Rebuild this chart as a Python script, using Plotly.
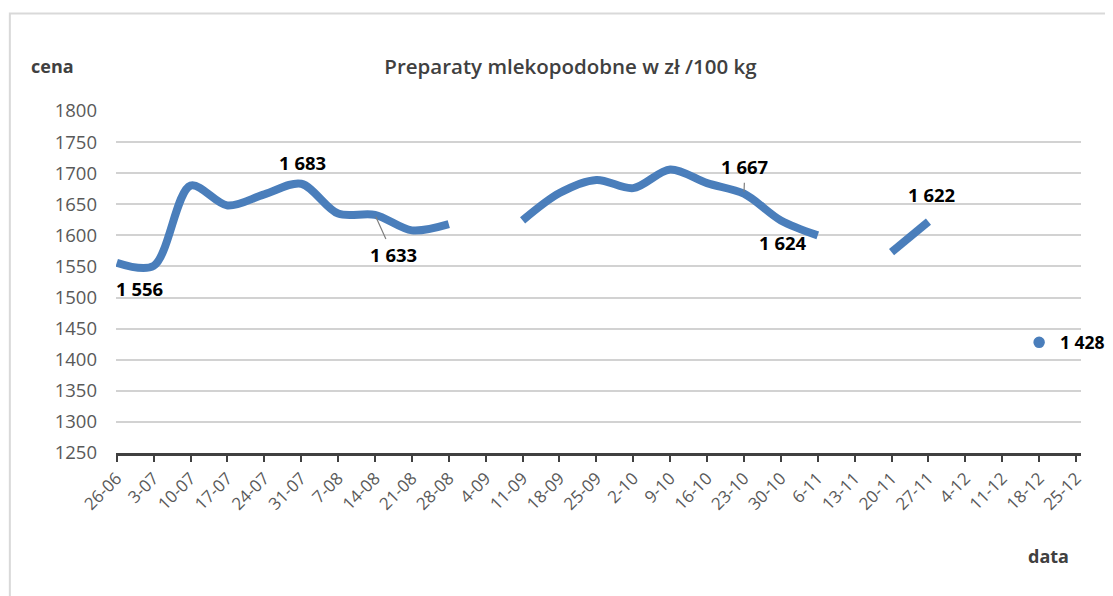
import plotly.graph_objects as go

categories = ["26-06", "3-07", "10-07", "17-07", "24-07", "31-07", "7-08", "14-08", "21-08",
              "28-08", "4-09", "11-09", "18-09", "25-09", "2-10", "9-10", "16-10", "23-10",
              "30-10", "6-11", "13-11", "20-11", "27-11", "4-12", "11-12", "18-12", "25-12"]
prices = [1556, 1551, 1680, 1648, 1666, 1683, 1635, 1633, 1608, 1618, None, 1624, 1668, 1689,
          1676, 1706, 1684, 1667, 1624, 1600, None, 1573, 1622, None, None, 1428, None]
y_ticks = [1250, 1300, 1350, 1400, 1450, 1500, 1550, 1600, 1650, 1700, 1750, 1800]
labelled_points = ["26-06", "31-07", "14-08", "23-10", "30-10", "27-11", "18-12"]

title_text = "Preparaty mlekopodobne w zł /100 kg"
y_title = "cena"
x_title = "data"

BLUE = "#4A7EBB"
FONT = "Open Sans"
W, H = 1105, 588  # page body has an 8px margin


def fmt(v):
    return f"{v:,}".replace(",", " ")


# marker only for isolated points (no neighbours)
sizes = []
for i, v in enumerate(prices):
    left = prices[i - 1] if i > 0 else None
    right = prices[i + 1] if i < len(prices) - 1 else None
    sizes.append(10 if (v is not None and left is None and right is None) else 0)

fig = go.Figure()
fig.add_trace(go.Scatter(
    x=categories, y=prices, mode="lines+markers",
    line=dict(color=BLUE, width=8, shape="spline", smoothing=0.9),
    marker=dict(color=BLUE, size=sizes, opacity=1, line=dict(width=1.5, color=BLUE)),
    connectgaps=False, showlegend=False, cliponaxis=False,
))

LBL = dict(family=FONT, size=18.5, color="#000000", weight="bold")
# label placement (pixel offsets)
offsets = {
    "26-06": dict(xshift=23, yshift=-26, arrow=False, xanchor="center", size=18.5),
    "31-07": dict(xshift=1, yshift=21, arrow=False, xanchor="center", size=18.5),
    "14-08": dict(ax=18, ay=40, arrow=True),
    "23-10": dict(ax=1, ay=-27, arrow=True),
    "30-10": dict(xshift=2, yshift=-22, arrow=False, xanchor="center", size=18.5),
    "27-11": dict(xshift=3, yshift=27, arrow=False, xanchor="center", size=18.5),
    "18-12": dict(xshift=19, yshift=0, arrow=False, xanchor="left", size=17.5),
}
for cat in labelled_points:
    v = prices[categories.index(cat)]
    o = offsets[cat]
    if o["arrow"]:
        fig.add_annotation(x=cat, y=v, text=fmt(v), showarrow=True, arrowhead=0,
                           arrowwidth=1.2, arrowcolor="#7f7f7f", ax=o["ax"], ay=o["ay"],
                           standoff=2, startstandoff=2, font=LBL)
    else:
        fig.add_annotation(x=cat, y=v, text=fmt(v), showarrow=False,
                           xanchor=o["xanchor"], yanchor="middle",
                           xshift=o["xshift"], yshift=o["yshift"],
                           font=dict(LBL, size=o["size"]))

fig.add_annotation(xref="paper", yref="paper", x=-0.066, y=1.133, text=y_title,
                   xanchor="center", yanchor="middle", showarrow=False,
                   font=dict(family=FONT, size=18, color="#404040", weight="bold"))
fig.add_annotation(xref="paper", yref="paper", x=0.966, y=-0.302, text=x_title,
                   xanchor="center", yanchor="middle", showarrow=False,
                   font=dict(family=FONT, size=18, color="#404040", weight="bold"))

fig.add_shape(type="rect", xref="paper", yref="paper", x0=-0.11, x1=1.2, y0=-0.8, y1=1.285,
              line=dict(color="#d9d9d9", width=2), layer="below")

fig.update_layout(
    width=W, height=H,
    margin=dict(l=108, r=32, t=103, b=143),
    paper_bgcolor="white", plot_bgcolor="white",
    title=dict(text=title_text, xref="paper", x=0.471, xanchor="center",
               yref="container", y=1 - 59 / H, yanchor="middle",
               font=dict(family=FONT, size=20.5, color="#404040", weight=600)),
    xaxis=dict(type="category", categoryorder="array", categoryarray=categories,
               range=[-0.02, 26.135], showgrid=False, showline=True, linecolor="#404040",
               linewidth=2.5, ticks="outside", ticklen=6, tickwidth=2, tickcolor="#404040",
               tickangle=-45, tickfont=dict(family=FONT, size=17, color="#595959"),
               zeroline=False, fixedrange=True),
    yaxis=dict(range=[1250, 1800], tickvals=y_ticks, showgrid=True, gridcolor="#d2d2d2",
               gridwidth=1.5, showline=False, zeroline=False, ticks="",
               ticklabelstandoff=18,
               tickfont=dict(family=FONT, size=18.5, color="#595959"), fixedrange=True),
)

fig.write_html("out.html")
